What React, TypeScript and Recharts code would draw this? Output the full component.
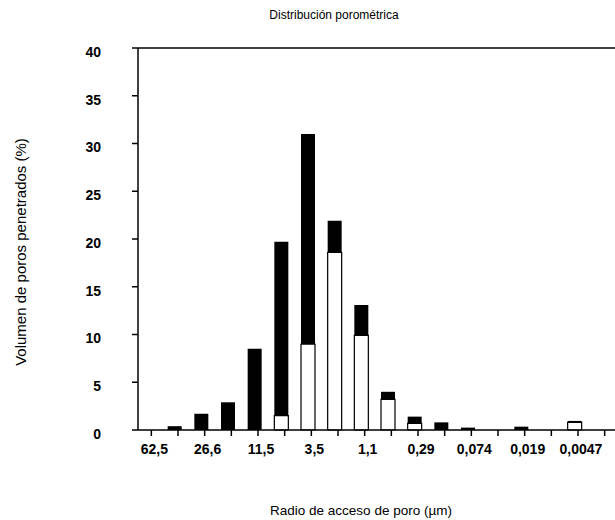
import { BarChart, Bar, XAxis, YAxis, ReferenceLine, Rectangle } from "recharts";

// pore access radius classes (µm); only every other tick carries a label
const radiusLabels = [
  "62,5", "", "26,6", "", "11,5", "", "3,5", "", "1,1", "",
  "0,29", "", "0,074", "", "0,019", "", "0,0047", "",
];

// total penetrated volume per class (%), black bars
const totalVolume = [
  0, 0.4, 1.7, 2.9, 8.5, 19.7, 31.0, 21.9, 13.1, 4.0,
  1.4, 0.8, 0.25, 0, 0.35, 0, 0.95, 0,
];

// second fraction drawn as white bars on top of the black ones
const whiteVolume = [
  0, 0, 0, 0, 0, 1.5, 9.0, 18.6, 9.9, 3.2,
  0.7, 0, 0, 0, 0, 0, 0.8, 0,
];

const yTicks = [0, 5, 10, 15, 20, 25, 30, 35, 40];

const font = '"Liberation Sans", Arial, Helvetica, sans-serif';

const data = radiusLabels.map((label, i) => ({
  slot: i,
  label,
  total: totalVolume[i],
  white: whiteVolume[i],
}));

// bars in the original sit a little left of their tick
const ShiftedBar = (props: any) => <Rectangle {...props} x={props.x - 3} />;

export default function App() {
  return (
    <div
      style={{
        position: "absolute",
        left: 0,
        top: 0,
        width: 615,
        height: 520,
        overflow: "hidden",
        background: "#fff",
        fontFamily: font,
      }}
    >
      <div
        style={{
          position: "absolute",
          left: 334,
          top: 15,
          transform: "translate(-50%, -50%)",
          fontSize: 12,
          whiteSpace: "nowrap",
          color: "#000",
        }}
      >
        Distribución porométrica
      </div>
      <div
        style={{
          position: "absolute",
          left: 20,
          top: 252,
          transform: "translate(-50%, -50%) rotate(-90deg)",
          fontSize: 15,
          whiteSpace: "nowrap",
          color: "#000",
        }}
      >
        Volumen de poros penetrados (%)
      </div>
      <div
        style={{
          position: "absolute",
          left: 361,
          top: 510,
          transform: "translate(-50%, -50%)",
          fontSize: 13.5,
          whiteSpace: "nowrap",
          color: "#000",
        }}
      >
        Radio de acceso de poro (µm)
      </div>
      <div style={{ position: "absolute", left: 0, top: 0 }}>
        <BarChart
          width={625}
          height={520}
          data={data}
          margin={{ top: 48, right: 7, bottom: 0, left: 0 }}
          barGap={0}
        >
          <XAxis
            xAxisId="main"
            dataKey="slot"
            interval={0}
            height={90}
            axisLine={{ stroke: "#000", strokeWidth: 1.5 }}
            tickLine={{ stroke: "#000", strokeWidth: 1.5 }}
            tickSize={6}
            tickMargin={8}
            tickFormatter={(_v, i) => radiusLabels[i]}
            tick={{ fill: "#000", fontSize: 14, fontWeight: "bold", fontFamily: font, dx: 3 }}
          />
          <XAxis xAxisId="over" dataKey="slot" hide />
          <YAxis
            domain={[0, 40]}
            ticks={yTicks}
            width={138}
            interval={0}
            axisLine={{ stroke: "#000", strokeWidth: 1.5 }}
            tickLine={{ stroke: "#000", strokeWidth: 1.5 }}
            tickSize={6}
            tickMargin={31}
            tick={{ fill: "#000", fontSize: 14, fontWeight: "bold", fontFamily: font, dy: 4 }}
          />
          <ReferenceLine xAxisId="main" y={40} stroke="#000" strokeWidth={1.5} />
          <Bar
            xAxisId="main"
            dataKey="total"
            fill="#000"
            barSize={14}
            shape={ShiftedBar}
            isAnimationActive={false}
          />
          <Bar
            xAxisId="over"
            dataKey="white"
            fill="#fff"
            stroke="#000"
            strokeWidth={1.2}
            barSize={14}
            shape={ShiftedBar}
            isAnimationActive={false}
          />
        </BarChart>
      </div>
    </div>
  );
}
